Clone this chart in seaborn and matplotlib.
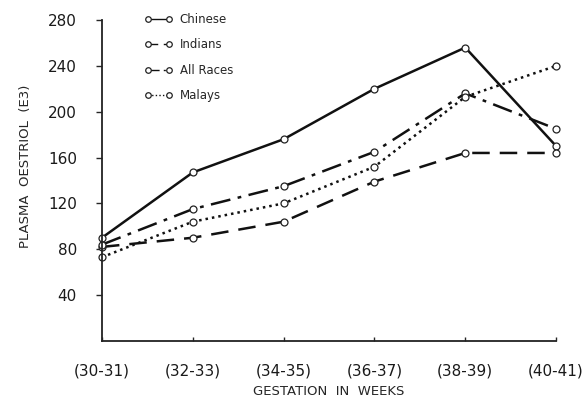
import seaborn as sns
import pandas as pd
import matplotlib.pyplot as plt

# data
weeks = ['(30-31)', '(32-33)', '(34-35)', '(36-37)', '(38-39)', '(40-41)']
chinese = [90, 147, 176, 220, 256, 170]
indians = [82, 90, 104, 139, 164, 164]
all_races = [84, 115, 135, 165, 216, 185]
malays = [73, 104, 120, 152, 213, 240]

series = {'Chinese': chinese, 'Indians': indians, 'All Races': all_races, 'Malays': malays}
styles = {'Chinese': '-', 'Indians': (0, (7, 4)), 'All Races': (0, (8, 3, 1.5, 3)), 'Malays': (0, (1, 1.6))}

rows = []
for name, vals in series.items():
    for i, v in enumerate(vals):
        rows.append({'pos': i, 'value': v, 'group': name})
df = pd.DataFrame(rows)

sns.set_style('white')
plt.rcParams['font.family'] = ['DejaVu Sans']

fig = plt.figure(figsize=(5.86, 4.01), dpi=100)
ax = fig.add_axes([0.174, 0.15, 0.775, 0.80])

for name in series:
    sns.lineplot(data=df[df['group'] == name], x='pos', y='value', ax=ax,
                 color='#111111', linestyle=styles[name], linewidth=1.8,
                 marker='o', markersize=5, markerfacecolor='white',
                 markeredgecolor='#222222', markeredgewidth=0.9,
                 label=name, clip_on=False)

ax.set_xlim(0, 5)
ax.set_ylim(0, 280)
ax.set_xticks(range(len(weeks)))
ax.set_xticklabels(weeks, fontsize=11)
ax.set_yticks([40, 80, 120, 160, 200, 240, 280])
ax.tick_params(axis='y', direction='out', length=4, width=1, labelsize=11, pad=14,
               labelcolor='#1a1a1a')
ax.tick_params(axis='x', direction='in', length=3, width=1, labelsize=11, pad=16,
               labelcolor='#1a1a1a')
ax.tick_params(left=True, bottom=True)

sns.despine(ax=ax)
for s in ['left', 'bottom']:
    ax.spines[s].set_linewidth(1.3)
    ax.spines[s].set_color('#222222')

ax.set_xlabel('GESTATION  IN  WEEKS', fontsize=9.5, labelpad=5)
ax.set_ylabel('PLASMA  OESTRIOL  (E3)', fontsize=9.5)
ax.yaxis.set_label_coords(-0.155, 0.545)

leg = ax.legend(loc='upper left', bbox_to_anchor=(0.07, 1.055), frameon=False,
                fontsize=8.5, handlelength=2.4, numpoints=2, labelspacing=1.05,
                handletextpad=0.6)
for line in leg.get_lines():
    line.set_linewidth(1.0)
    line.set_markersize(4)

plt.savefig('out.png', dpi=100)
